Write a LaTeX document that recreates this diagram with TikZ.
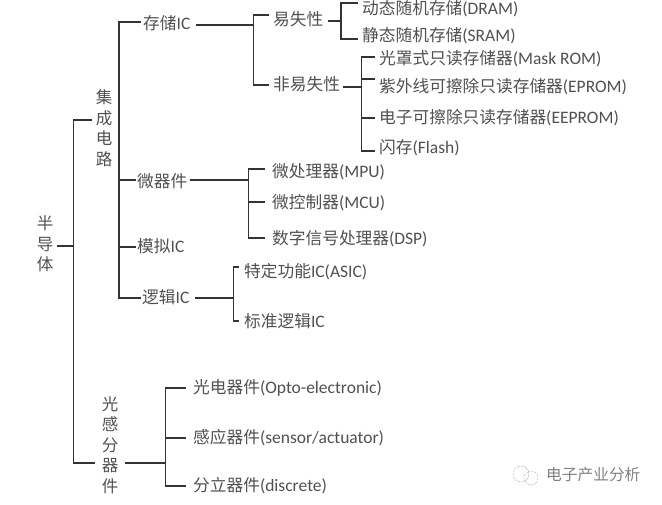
\documentclass[tikz,border=0pt]{standalone}
\usepackage{fontspec}
\setmainfont{Noto Sans CJK SC}
\newfontfamily\latinfont{Carlito}
\newcommand{\lat}[1]{{\latinfont\fontsize{17.5}{20}\selectfont #1}}
\definecolor{inkgray}{HTML}{505050}
\definecolor{linegray}{HTML}{333333}
\begin{document}
\begin{tikzpicture}[
        x=1pt, y=-1pt,
        % Style for the connector lines
        link/.style={draw=linegray, line width=1.5pt},
        % Style for the horizontal labels
        leaf/.style={anchor=west, inner xsep=4pt, inner ysep=0pt, text=inkgray, font=\fontsize{16.7}{18}\selectfont, text height=14pt, text depth=3pt},
        % Style for the vertical labels
        stack/.style={align=center, inner sep=0pt, text=inkgray, font=\fontsize{16.5}{20.5}\selectfont},
        % Style for the watermark
        mark text/.style={anchor=west, inner sep=0pt, text=gray, font=\fontsize{15.7}{18}\selectfont}
    ]
        \useasboundingbox (0,0) rectangle (662,504);

        % --- Vertical labels ---
        \node[stack] (chip) at (45,244) {半\\导\\体};
        \node[stack] (ic) at (104,128) {集\\成\\电\\路};
        \node[stack] (sensor) at (110,445) {光\\感\\分\\器\\件};

        % --- Second level ---
        \node[leaf, inner xsep=2pt] (mem) at (141,24) {存储\lat{IC}};
        \node[leaf, inner xsep=1pt] (micro) at (136,182) {微器件};
        \node[leaf, inner xsep=1pt] (analog) at (136,247) {模拟\lat{IC}};
        \node[leaf, inner xsep=1pt] (logic) at (141,298) {逻辑\lat{IC}};

        % --- Memory branch ---
        \node[leaf] (vol) at (269,20) {易失性};
        \node[leaf] (nonvol) at (269,85) {非易失性};
        \node[leaf] (dram) at (358,9) {动态随机存储\lat{(DRAM)}};
        \node[leaf] (sram) at (358,36) {静态随机存储\lat{(SRAM)}};
        \node[leaf] (mask) at (375,59) {光罩式只读存储器\lat{(Mask ROM)}};
        \node[leaf] (eprom) at (375,87) {紫外线可擦除只读存储器\lat{(EPROM)}};
        \node[leaf] (eeprom) at (375,118) {电子可擦除只读存储器\lat{(EEPROM)}};
        \node[leaf] (flash) at (375,148) {闪存\lat{(Flash)}};

        % --- Micro, logic and sensor leaves ---
        \node[leaf, inner xsep=7pt] (mpu) at (265,172) {微处理器\lat{(MPU)}};
        \node[leaf, inner xsep=7pt] (mcu) at (265,203) {微控制器\lat{(MCU)}};
        \node[leaf, inner xsep=7pt] (dsp) at (265,239) {数字信号处理器\lat{(DSP)}};
        \node[leaf, inner xsep=5pt] (asic) at (239,272) {特定功能\lat{IC(ASIC)}};
        \node[leaf, inner xsep=5pt] (std) at (239,322) {标准逻辑\lat{IC}};
        \node[leaf, inner xsep=7pt] (opto) at (186,388) {光电器件\lat{(Opto-electronic)}};
        \node[leaf, inner xsep=7pt] (act) at (186,438) {感应器件\lat{(sensor/actuator)}};
        \node[leaf, inner xsep=7pt] (disc) at (186,486) {分立器件\lat{(discrete)}};

        % --- Spines ---
        \coordinate (rootS) at (73.5,246);
        \coordinate (icS) at (119,246);
        \coordinate (memS) at (253.5,25);
        \coordinate (volS) at (341,21);
        \coordinate (nonS) at (361.5,87);
        \coordinate (microS) at (248.5,180);
        \coordinate (logicS) at (233.5,298);
        \coordinate (sensorS) at (165.5,463);

        % --- Connectors ---
        \draw[link] ([xshift=-4pt,yshift=8pt]ic.west) -| (rootS) |- ([xshift=-7pt]sensor.west |- sensorS);
        \draw[link] ([xshift=12pt]chip.center |- rootS) -- (rootS);

        \draw[link] ([yshift=2pt]mem.west) -| (icS) |- (logic.west);
        \draw[link] ([yshift=2pt]micro.west) -- (icS |- 0,180);
        \draw[link] (analog.west) -- (icS |- analog.west);

        \draw[link] ([xshift=3pt]mem.east |- memS) -- (memS);
        \draw[link] ([yshift=5pt]vol.west) -| (memS) |- (nonvol.west);

        \draw[link] (vol.east |- volS) -- (volS);
        \draw[link] ([yshift=6pt]dram.west) -| (volS) |- ([yshift=-3pt]sram.west);

        \draw[link] ([xshift=-1pt]nonvol.east |- nonS) -- (nonS);
        \draw[link] ([yshift=2pt]mask.west) -| (nonS) |- ([yshift=-3pt]flash.west);
        \draw[link] ([yshift=8pt]eprom.west) -- (nonS |- 0,79);
        \draw[link] (eeprom.west) -- (nonS |- eeprom.west);

        \draw[link] ([xshift=1pt]micro.east |- microS) -- (microS);
        \draw[link] ([yshift=3pt]mpu.west) -| (microS) |- ([yshift=1pt]dsp.west);
        \draw[link] ([yshift=1pt]mcu.west) -- (microS |- 0,202);

        \draw[link] ([xshift=4pt]logic.east) -- (logicS);
        \draw[link] ([yshift=5pt]asic.west) -| (logicS) |- ([yshift=1pt]std.west);

        \draw[link] ([xshift=7pt]sensor.east |- sensorS) -- (sensorS);
        \draw[link] (opto.west) -| (sensorS) |- (disc.west);
        \draw[link] (act.west) -- (sensorS |- act.west);

        % --- Watermark ---
        \node[mark text] (wm) at (546,475) {电子产业分析};
        \draw[gray, densely dotted, line width=0.5pt] (521,474) circle (8);
        \draw[gray, densely dotted, line width=0.5pt] (531,478) circle (7);
\end{tikzpicture}
\end{document}
